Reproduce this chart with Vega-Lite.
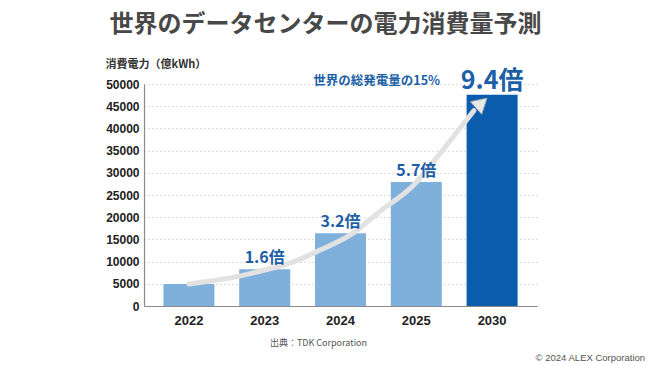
{
  "$schema": "https://vega.github.io/schema/vega-lite/v6.json",
  "autosize": "none",
  "width": 393,
  "height": 222,
  "padding": {"left": 144, "top": 84, "right": 113, "bottom": 60},
  "background": "white",
  "title": {
    "text": "世界のデータセンターの電力消費量予測",
    "font": "Noto Sans CJK JP",
    "fontSize": 24,
    "fontWeight": "bold",
    "color": "#484848",
    "anchor": "middle",
    "frame": "group",
    "dx": -15,
    "offset": 21
  },
  "datasets": {
    "bars": [
      {"year": "2022", "kwh": 4950, "label": ""},
      {"year": "2023", "kwh": 8300, "label": "1.6倍"},
      {"year": "2024", "kwh": 16400, "label": "3.2倍"},
      {"year": "2025", "kwh": 27900, "label": "5.7倍"},
      {"year": "2030", "kwh": 47600, "label": "9.4倍"}
    ],
    "curve": [
      {"pos": 0.0, "kwh": 4950},
      {"pos": 0.54, "kwh": 6300},
      {"pos": 1.0, "kwh": 8100},
      {"pos": 1.37, "kwh": 9900},
      {"pos": 1.73, "kwh": 12600},
      {"pos": 2.13, "kwh": 16000},
      {"pos": 2.52, "kwh": 21300},
      {"pos": 2.98, "kwh": 27500},
      {"pos": 3.31, "kwh": 34300},
      {"pos": 3.58, "kwh": 40100},
      {"pos": 3.76, "kwh": 44000}
    ],
    "head": [
      {"pos": 3.86, "kwh": 45700}
    ]
  },
  "encoding": {
    "y": {
      "field": "kwh",
      "type": "quantitative",
      "scale": {"domain": [0, 50000], "nice": false},
      "axis": {
        "values": [0, 5000, 10000, 15000, 20000, 25000, 30000, 35000, 40000, 45000, 50000],
        "labelOverlap": false,
        "format": "d",
        "title": "消費電力（億kWh）",
        "titleFont": "Noto Sans CJK JP",
        "titleFontSize": 11,
        "titleFontWeight": "bold",
        "titleColor": "#333333",
        "titleAngle": 0,
        "titleAlign": "left",
        "titleBaseline": "middle",
        "titleX": -39,
        "titleY": -20,
        "labelFont": "Liberation Sans",
        "labelFontSize": 12,
        "labelFontWeight": "bold",
        "labelColor": "#222222",
        "labelPadding": 5,
        "ticks": false,
        "domainColor": "#8a8a8a",
        "domainWidth": 1.2,
        "grid": true,
        "gridColor": "#b8b8b8",
        "gridDash": [1, 3],
        "gridWidth": 1
      }
    }
  },
  "layer": [
    {
      "data": {"name": "bars"},
      "mark": {"type": "bar"},
      "encoding": {
        "x": {
          "field": "year",
          "type": "ordinal",
          "scale": {"type": "band", "paddingInner": 0.327, "paddingOuter": 0.256},
          "axis": {
            "title": "出典：TDK Corporation",
            "titleFont": "Noto Sans CJK JP",
            "titleFontSize": 9,
            "titleFontWeight": "normal",
            "titleColor": "#555555",
            "titleX": 174,
            "titleY": 36,
            "titleAlign": "center",
            "titleBaseline": "middle",
            "labelAngle": 0,
            "labelFont": "Liberation Sans",
            "labelFontSize": 13,
            "labelFontWeight": "bold",
            "labelColor": "#222222",
            "labelPadding": 8,
            "ticks": false,
            "domainColor": "#8a8a8a",
            "domainWidth": 1.2
          }
        },
        "color": {
          "condition": {"test": "datum.year === '2030'", "value": "#0b5cad"},
          "value": "#7fb0dc"
        }
      }
    },
    {
      "layer": [
        {
          "data": {"name": "curve"},
          "mark": {
            "type": "line",
            "interpolate": "monotone",
            "strokeWidth": 5,
            "color": "#e2e2e2",
            "strokeCap": "round"
          },
          "encoding": {
            "x": {"field": "pos", "type": "quantitative", "scale": {"domain": [-0.5925, 4.5925], "nice": false, "zero": false}, "axis": null}
          }
        },
        {
          "data": {"name": "head"},
          "mark": {
            "type": "point",
            "shape": "triangle-up",
            "angle": 48,
            "size": 280,
            "filled": true,
            "fill": "#e8e8e8",
            "stroke": "#b5b5b5",
            "strokeWidth": 0.8,
            "opacity": 1
          },
          "encoding": {
            "x": {"field": "pos", "type": "quantitative", "scale": {"domain": [-0.5925, 4.5925], "nice": false, "zero": false}, "axis": null}
          }
        }
      ]
    },
    {
      "data": {"name": "bars"},
      "encoding": {
        "x": {
          "field": "year",
          "type": "ordinal",
          "scale": {"type": "band", "paddingInner": 0.327, "paddingOuter": 0.256},
          "axis": null
        }
      },
      "layer": [
        {
          "transform": [{"filter": "datum.year !== '2030'"}],
          "mark": {
            "type": "text",
            "font": "Noto Sans CJK JP",
            "fontSize": 16,
            "fontWeight": "bold",
            "color": "#1d5fa7",
            "baseline": "middle",
            "dy": -11
          },
          "encoding": {"text": {"field": "label"}}
        },
        {
          "transform": [{"filter": "datum.year === '2030'"}],
          "mark": {
            "type": "text",
            "font": "Noto Sans CJK JP",
            "fontSize": 25,
            "fontWeight": "bold",
            "color": "#1d5fa7",
            "baseline": "middle",
            "dy": -14
          },
          "encoding": {"text": {"field": "label"}}
        },
        {
          "transform": [{"filter": "datum.year === '2030'"}],
          "mark": {
            "type": "text",
            "font": "Noto Sans CJK JP",
            "fontSize": 12.5,
            "fontWeight": "bold",
            "color": "#1d5fa7",
            "align": "right",
            "baseline": "middle",
            "dx": -52,
            "dy": -14,
            "text": "世界の総発電量の15%"
          },
          "encoding": {}
        },
        {
          "transform": [{"filter": "datum.year === '2030'"}],
          "mark": {
            "type": "text",
            "font": "Liberation Sans",
            "fontSize": 9.5,
            "color": "#555555",
            "align": "right",
            "baseline": "middle",
            "dx": 153,
            "dy": 52,
            "text": "© 2024 ALEX Corporation"
          },
          "encoding": {
            "y": {"datum": 0, "type": "quantitative"}
          }
        }
      ]
    }
  ],
  "resolve": {"scale": {"x": "independent"}, "axis": {"x": "independent"}},
  "config": {"view": {"stroke": null}}
}
